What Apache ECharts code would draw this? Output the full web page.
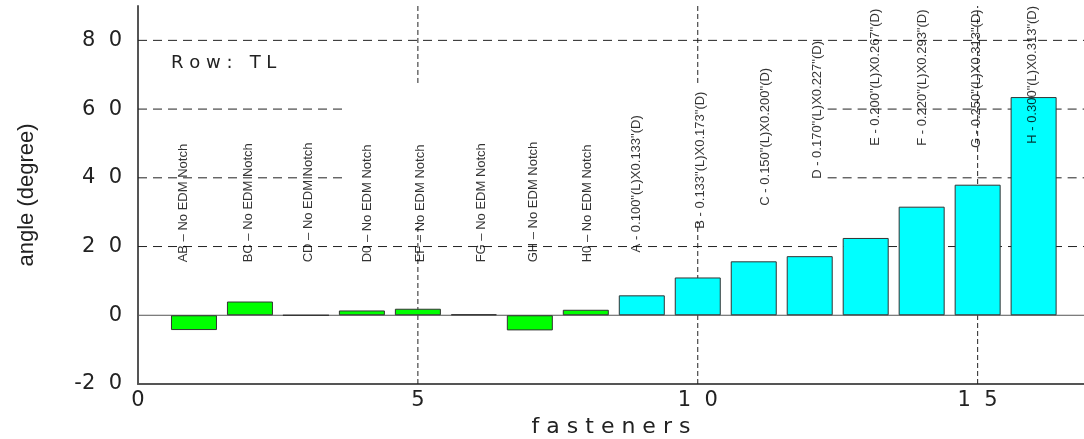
<!DOCTYPE html>
<html><head><meta charset="utf-8">
<script src="https://cdn.jsdelivr.net/npm/echarts@6/dist/echarts.min.js"></script>
<style>html,body{margin:0;padding:0;background:#fff}#c{width:1084px;height:439px}</style>
</head><body><div id="c"></div>
<script>
// ---- data ----
const fastenerPos = [1, 2, 3, 4, 5, 6, 7, 8, 9, 10, 11, 12, 13, 14, 15, 16];
const angles = [-4.3, 4.0, 0, 1.4, 1.9, 0.3, -4.4, 1.6, 5.8, 11.0, 15.7, 17.2, 22.5, 31.6, 38.0, 63.5];
const notchGroup = ['none','none','none','none','none','none','none','none','edm','edm','edm','edm','edm','edm','edm','edm'];
const labelTexts = [
  'AB – No EDM Notch', 'BC – No EDM Notch', 'CD – No EDM Notch', 'D0 – No EDM Notch',
  'EF – No EDM Notch', 'FG – No EDM Notch', 'GH – No EDM Notch', 'H0 – No EDM Notch',
  'A - 0.100"(L)X0.133"(D)', 'B - 0.133"(L)X0.173"(D)', 'C - 0.150"(L)X0.200"(D)', 'D - 0.170"(L)X0.227"(D)',
  'E - 0.200"(L)X0.267"(D)', 'F - 0.220"(L)X0.293"(D)', 'G - 0.250"(L)X0.313"(D)', 'H - 0.300"(L)X0.313"(D)'
];
const labelAtX = [0.81, 1.98, 3.05, 4.09, 5.05, 6.14, 7.07, 8.02, 8.91, 10.04, 11.2, 12.13, 13.18, 14.02, 14.98, 15.98];
const labelAtY = [15.4, 15.4, 15.4, 15.4, 15.4, 15.4, 15.4, 15.4, 18.3, 25.2, 31.9, 39.7, 49.3, 49.3, 48.7, 49.9];
const yTicks = [-20, 0, 20, 40, 60, 80];
const xTicks = [0, 5, 10, 15];
const gridYValues = [20, 40, 60, 80];
const gridXValues = [5, 10, 15];
const rowName = 'Row: TL';

// ---- styling / layout ----
const X_MIN = 0, X_MAX = 16.9, Y_MIN = -20, Y_MAX = 90;
const gapX = [3.75, 12.32], gapY = [27.2, 67.6];
const groupColor = { none: '#00ff00', edm: '#00ffff' };
const spaced = (s, sep) => s.split('').join(sep);
const tickFmt = v => (v < 0 ? '-' : '') + spaced(String(Math.abs(v)), '  ');

const series = [];
gridYValues.forEach(y => {
  const segs = (y > gapY[0] && y < gapY[1]) ? [[X_MIN, gapX[0]], [gapX[1], X_MAX]] : [[X_MIN, X_MAX]];
  segs.forEach(s => series.push({
    type: 'line', z: 1, silent: true, symbol: 'none', animation: false,
    data: [[s[0], y], [s[1], y]],
    lineStyle: { color: '#222', width: 1, type: [9, 6] }
  }));
});
gridXValues.forEach(x => {
  const segs = (x > gapX[0] && x < gapX[1]) ? [[Y_MIN, gapY[0]], [gapY[1], Y_MAX]] : [[Y_MIN, Y_MAX]];
  segs.forEach(s => series.push({
    type: 'line', z: 1, silent: true, symbol: 'none', animation: false,
    data: [[x, s[0]], [x, s[1]]],
    lineStyle: { color: '#222', width: 1, type: [5, 3] }
  }));
});
// zero line
series.push({
  type: 'line', z: 1.5, silent: true, symbol: 'none', animation: false,
  data: [[X_MIN, 0], [X_MAX, 0]],
  lineStyle: { color: '#555', width: 1, type: 'solid' }
});
// bars
series.push({
  type: 'bar', z: 3, animation: false, barWidth: 46,
  data: fastenerPos.map((p, i) => ({
    value: [p, angles[i]],
    itemStyle: { color: groupColor[notchGroup[i]], borderColor: '#333', borderWidth: 1 }
  }))
});
// annotations
series.push({
  type: 'scatter', z: 5, silent: true, animation: false, symbolSize: 0,
  data: labelTexts.map((t, i) => ({ value: [labelAtX[i], labelAtY[i]], name: t })),
  label: {
    show: true, position: 'inside', rotate: 90, align: 'left', verticalAlign: 'middle',
    formatter: p => p.name, color: '#000', fontFamily: 'Liberation Sans', fontSize: 13
  }
});

const chart = echarts.init(document.getElementById('c'), null, { renderer: 'canvas' });
chart.setOption({
  backgroundColor: '#ffffff',
  animation: false,
  title: {
    text: spaced(rowName.replace(' ', ''), ' ').replace(':', ':  '),
    left: 166, top: 49,
    textStyle: { fontFamily: 'DejaVu Sans', fontSize: 18, fontWeight: 'normal', color: '#222' }
  },
  grid: { left: 138, top: 6, right: 0, bottom: 55, containLabel: false, outerBoundsMode: 'none' },
  xAxis: {
    type: 'value', min: X_MIN, max: X_MAX, interval: 5,
    name: spaced('fasteners', ' '), nameLocation: 'middle', nameGap: 30,
    nameTextStyle: { fontFamily: 'DejaVu Sans', fontSize: 22, color: '#222' },
    axisLine: { show: true, onZero: false, lineStyle: { color: '#555', width: 2 } },
    axisTick: { show: false },
    splitLine: { show: false },
    axisLabel: {
      showMaxLabel: false, margin: 6, color: '#222', fontFamily: 'DejaVu Sans', fontSize: 21,
      formatter: v => xTicks.includes(v) ? tickFmt(v) : ''
    }
  },
  yAxis: {
    type: 'value', min: Y_MIN, max: Y_MAX, interval: 20,
    name: 'angle (degree)', nameLocation: 'middle', nameGap: 100,
    nameTextStyle: { fontFamily: 'Liberation Sans', fontSize: 22, color: '#222' },
    axisLine: { show: true, onZero: false, lineStyle: { color: '#555', width: 2 } },
    axisTick: { show: false },
    splitLine: { show: false },
    axisLabel: {
      showMaxLabel: false, margin: 16, color: '#222', fontFamily: 'DejaVu Sans', fontSize: 21,
      formatter: v => yTicks.includes(v) ? tickFmt(v) : ''
    }
  },
  series: series
});
</script>
</body></html>
